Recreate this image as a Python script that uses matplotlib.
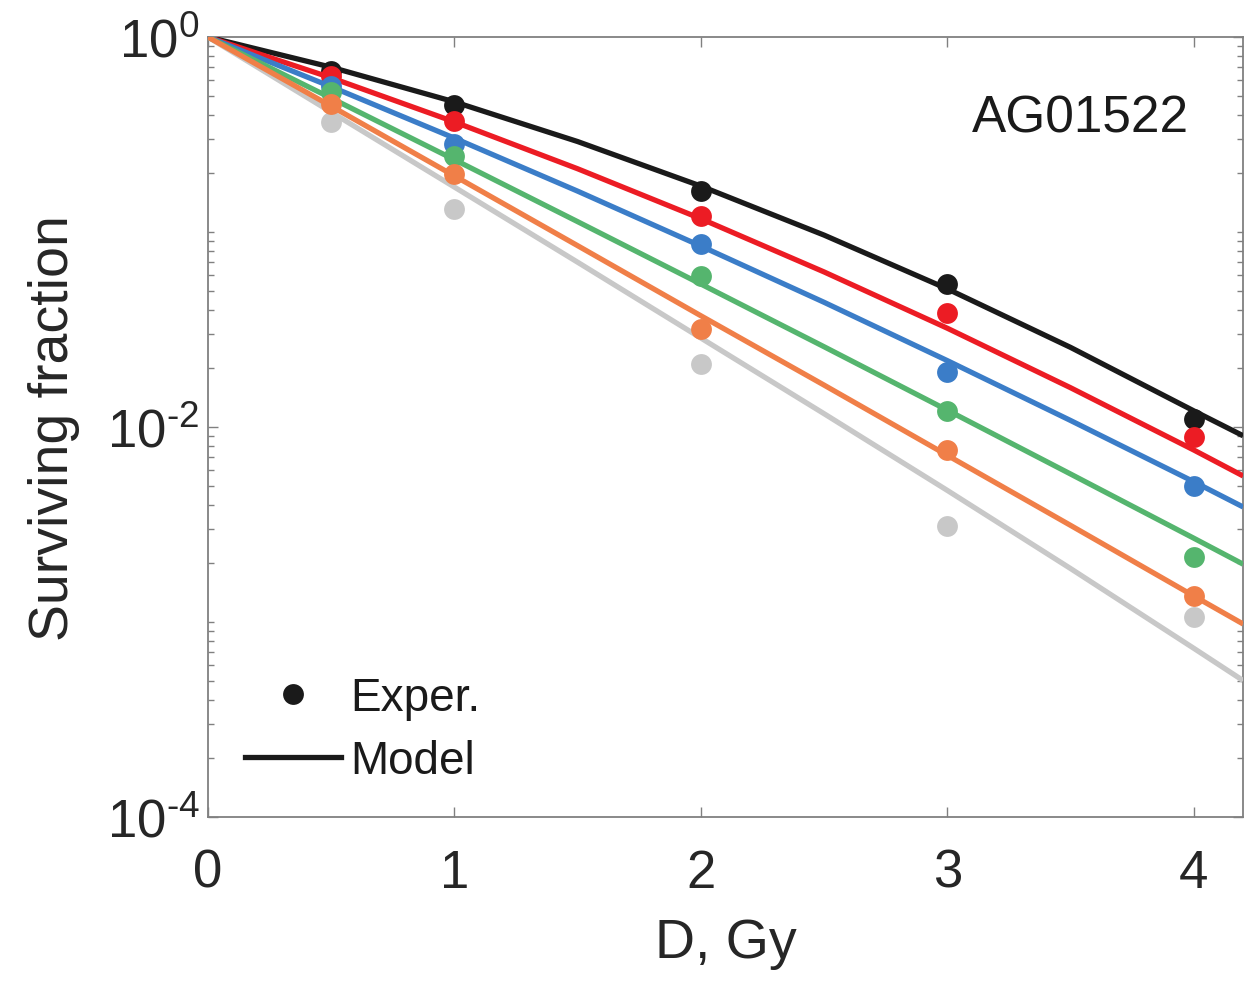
import matplotlib
matplotlib.use("Agg")
import matplotlib.pyplot as plt
from matplotlib.lines import Line2D
from matplotlib.ticker import FixedLocator, NullFormatter

plt.rcParams["font.family"] = ["Liberation Sans", "DejaVu Sans"]
plt.rcParams["mathtext.fontset"] = "custom"
plt.rcParams["mathtext.rm"] = "Liberation Sans"
plt.rcParams["mathtext.it"] = "Liberation Sans"

# ── Data ─────────────────────────────────────────────────────────────────────
dose_exp = [0.5, 1, 2, 3, 4]
exp_black = [0.669, 0.448, 0.162, 0.0541, 0.0110]
exp_red = [0.631, 0.371, 0.121, 0.0384, 0.00889]
exp_blue = [0.561, 0.283, 0.0867, 0.0191, 0.00498]
exp_green = [0.522, 0.245, 0.0594, 0.0121, 0.00215]
exp_orange = [0.453, 0.198, 0.0318, 0.00762, 0.00136]
exp_gray = [0.366, 0.131, 0.0210, 0.00311, 0.00106]

dose_model = [0, 0.5, 1, 1.5, 2, 2.5, 3, 3.5, 4, 4.2]
model_black = [1, 0.700, 0.465, 0.291, 0.172, 0.0964, 0.0511, 0.0256, 0.0121, 0.00902]
model_red = [1, 0.618, 0.367, 0.211, 0.117, 0.0624, 0.0321, 0.0159, 0.00762, 0.00561]
model_blue = [1, 0.556, 0.303, 0.162, 0.0847, 0.0436, 0.0219, 0.0108, 0.00524, 0.00389]
model_green = [1, 0.486, 0.235, 0.113, 0.0541, 0.0258, 0.0122, 0.00574, 0.00269, 0.00198]
model_orange = [1, 0.442, 0.194, 0.0851, 0.0372, 0.0164, 0.00716, 0.00313, 0.00136, 0.000977]
model_gray = [1, 0.412, 0.170, 0.0700, 0.0286, 0.0117, 0.00473, 0.00188, 0.000733, 0.000501]

ytick_vals = [1e-4, 1e-2, 1e0]
ytick_labels = [r"$10^{‐4}$", r"$10^{‐2}$", r"$10^{0}$"]

# draw order: gray first, orange last
series = [
    ("#c8c8c8", exp_gray, model_gray),
    ("#1a1a1a", exp_black, model_black),
    ("#ec1c24", exp_red, model_red),
    ("#3b7dc8", exp_blue, model_blue),
    ("#55b56e", exp_green, model_green),
    ("#f07f48", exp_orange, model_orange),
]

# ── Figure ────────────────────────────────────────────────────────────────────
fig = plt.figure(figsize=(12.6, 9.87), dpi=100)
ax = fig.add_axes([0.165, 0.1712, 0.8216, 0.7903])

for color, sf_exp, sf_model in series:
    ax.plot(dose_exp, sf_exp, "o", color=color, markersize=15,
            markeredgewidth=0, zorder=3)
    ax.plot(dose_model, sf_model, "-", color=color, linewidth=3.8,
            solid_capstyle="butt", zorder=3)

ax.set_yscale("log")
ax.set_xlim(0, 4.2)
ax.set_ylim(1e-4, 1)

ax.set_xticks([0, 1, 2, 3, 4])
ax.yaxis.set_major_locator(FixedLocator(ytick_vals))
ax.set_yticklabels(ytick_labels)
minor = [m * 10.0 ** e for e in range(-4, 0) for m in range(1, 10)][1:]
ax.yaxis.set_minor_locator(FixedLocator(minor))
ax.yaxis.set_minor_formatter(NullFormatter())

ax.tick_params(which="both", direction="in", top=True, right=True,
               colors="#808080", labelcolor="#262626")
ax.tick_params(which="major", length=7, width=1.0, labelsize=38)
ax.tick_params(which="minor", length=4.5, width=1.0)
ax.tick_params(axis="x", pad=22)
ax.tick_params(axis="y", pad=6)

for sp in ax.spines.values():
    sp.set_color("#808080")
    sp.set_linewidth(1.3)

ax.set_xlabel("D, Gy", fontsize=40, color="#262626", labelpad=14)
ax.set_ylabel("Surviving fraction", fontsize=40, color="#262626", labelpad=19)

ax.text(0.8425, 0.896, "AG01522", transform=ax.transAxes,
        ha="center", va="center", fontsize=37, color="#1a1a1a")

handles = [
    Line2D([], [], linestyle="none", marker="o", color="#1a1a1a",
           markersize=15, markeredgewidth=0),
    Line2D([], [], linestyle="-", color="#1a1a1a", linewidth=3.8),
]
ax.legend(handles, ["Exper.", "Model"], loc="lower left",
          bbox_to_anchor=(-0.004, -0.009), frameon=False, fontsize=33,
          handlelength=2.1, handletextpad=0.2, labelspacing=0.42,
          labelcolor="#1a1a1a")

fig.savefig("out.png", dpi=100)
